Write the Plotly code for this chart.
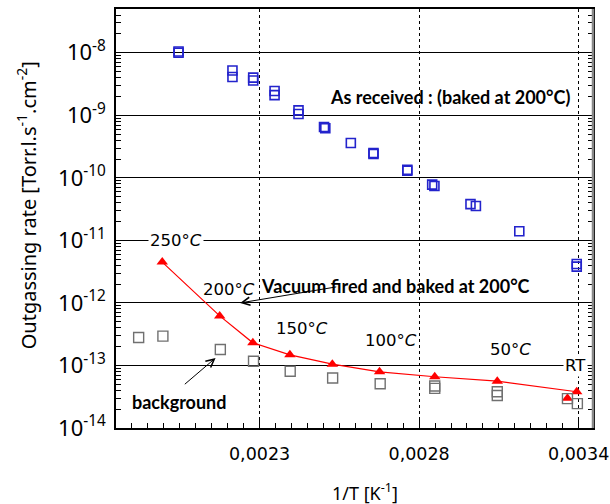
import plotly.graph_objects as go

# ---------------- data ----------------
# As received (baked at 200 C) - blue open squares
recv_x = [0.002046, 0.002046, 0.002215, 0.002215, 0.00228, 0.00228, 0.002347, 0.002347,
          0.002422, 0.002422, 0.002502, 0.002506, 0.002586, 0.002657, 0.002657,
          0.002763, 0.002763, 0.002841, 0.002848, 0.002961, 0.002978, 0.003114,
          0.003294, 0.003294]
recv_y = [1.05e-8, 1.0e-8, 5.2e-9, 4.1e-9, 4.0e-9, 3.6e-9, 2.45e-9, 2.1e-9,
          1.2e-9, 1.05e-9, 6.5e-10, 6.2e-10, 3.6e-10, 2.5e-10, 2.4e-10,
          1.35e-10, 1.3e-10, 7.8e-11, 7.4e-11, 3.8e-11, 3.55e-11, 1.4e-11,
          4.2e-12, 3.8e-12]

# Vacuum fired and baked at 200 C - red triangles
vf_x = [0.001995, 0.002175, 0.002279, 0.002395, 0.002528, 0.002676, 0.002849,
        0.003045, 0.003265, 0.003294]
vf_y = [4.5e-12, 6.2e-13, 2.3e-13, 1.48e-13, 1.05e-13, 7.9e-14, 6.6e-14,
        5.6e-14, 3.0e-14, 3.8e-14]
vf_line_idx = [0, 1, 2, 3, 4, 5, 6, 7, 9]

# Background - grey open squares
bg_x = [0.001921, 0.001997, 0.002177, 0.002281, 0.002396, 0.002529, 0.002678,
        0.002849, 0.002849, 0.003045, 0.003045, 0.003265, 0.003296]
bg_y = [2.8e-13, 2.95e-13, 1.8e-13, 1.17e-13, 8.1e-14, 6.3e-14, 5.1e-14,
        4.7e-14, 4.3e-14, 3.8e-14, 3.3e-14, 2.95e-14, 2.45e-14]

# axis ticks
x_tickvals = [0.0023, 0.0028, 0.0033]
x_ticktext = ["0,0023", "0,0028", "0,0034"]
y_exponents = [-8, -9, -10, -11, -12, -13, -14]

# temperature labels (x, log10 y)
temp_labels = ["250°<i>C</i>", "200°<i>C</i>", "150°<i>C</i>", "100°<i>C</i>", "50°<i>C</i>", "RT"]
temp_x = [0.002039, 0.002205, 0.002433, 0.002713, 0.003086, 0.003291]
temp_logy = [-11.0, -11.79, -12.41, -12.60, -12.75, -13.0]

# ---------------- figure ----------------
fig = go.Figure()

fig.add_trace(go.Scatter(
    x=recv_x, y=recv_y, mode="markers", name="As received",
    marker=dict(symbol="square-open", size=9, color="#2323cc", line=dict(width=1.6)),
))
fig.add_trace(go.Scatter(
    x=[vf_x[i] for i in vf_line_idx], y=[vf_y[i] for i in vf_line_idx],
    mode="lines", line=dict(color="#ff0000", width=1.2), hoverinfo="skip", showlegend=False,
))
fig.add_trace(go.Scatter(
    x=vf_x, y=vf_y, mode="markers", name="Vacuum fired",
    marker=dict(symbol="triangle-up", size=10, color="#ff0000"),
))
fig.add_trace(go.Scatter(
    x=bg_x, y=bg_y, mode="markers", name="background",
    marker=dict(symbol="square-open", size=10, color="#707070", line=dict(width=1.4)),
))

tick_font = dict(family="DejaVu Sans", size=17.5, color="black")

fig.update_xaxes(
    range=[0.00185, 0.003345], automargin=False,
    tickmode="array", tickvals=x_tickvals, ticktext=x_ticktext,
    ticks="inside", ticklen=8, tickwidth=1, tickcolor="black",
    minor=dict(ticks="inside", ticklen=5, tickwidth=1, tickcolor="black",
               tick0=0.00185, dtick=0.00005, showgrid=False),
    showgrid=True, gridcolor="black", gridwidth=1.1, griddash="dot",
    showline=True, linecolor="black", linewidth=1.5, mirror=True,
    zeroline=False, tickfont=tick_font, ticklabelstandoff=9,
)
fig.update_yaxes(
    type="log", range=[-14, -7.3], automargin=False,
    tickmode="array", tickvals=[10.0 ** e for e in y_exponents],
    ticktext=["10<sup>%d</sup>" % e for e in y_exponents],
    ticks="inside", ticklen=8, tickwidth=1, tickcolor="black",
    minor=dict(ticks="inside", ticklen=5, tickwidth=1, tickcolor="black",
               dtick="D1", showgrid=False),
    showgrid=True, gridcolor="black", gridwidth=1.3,
    showline=True, linecolor="black", linewidth=1.5, mirror="allticks",
    zeroline=False, tickfont=dict(family="Noto Sans", size=22, color="black"),
    ticklabelstandoff=4,
)

annotations = []
for t, xv, ly in zip(temp_labels, temp_x, temp_logy):
    annotations.append(dict(
        x=xv, y=ly, xref="x", yref="y", text=t, showarrow=False,
        font=dict(family="DejaVu Sans", size=16.5, color="black"),
        bgcolor="white" if t in ("250°<i>C</i>", "RT") else "rgba(0,0,0,0)",
        borderpad=1,
    ))

bold_font = dict(family="Lato", size=18, color="black")
annotations += [
    dict(x=0.002513, y=-8.71, xref="x", yref="y", text="<b>As received : (baked at 200°C)</b>",
         showarrow=False, font=bold_font, xanchor="left"),
    dict(x=0.002297, y=-11.73, xref="x", yref="y", text="<b>Vacuum fired and baked at 200°C</b>",
         showarrow=False, font=bold_font, xanchor="left"),
    dict(x=0.002049, y=-13.58, xref="x", yref="y", text="<b>background</b>",
         showarrow=False, font=bold_font),
    # arrows
    dict(x=0.002239, y=-12.0, ax=0.002545, ay=-11.74, xref="x", yref="y", axref="x", ayref="y",
         text="", showarrow=True, arrowhead=5, arrowsize=1.6, arrowwidth=1, arrowcolor="black"),
    dict(x=0.002162, y=-12.88, ax=0.002061, ay=-13.32, xref="x", yref="y", axref="x", ayref="y",
         text="", showarrow=True, arrowhead=5, arrowsize=1.6, arrowwidth=1, arrowcolor="black"),
    # axis titles
    dict(x=0.522, y=-0.153, xref="paper", yref="paper", text="1/T [K<sup>-1</sup>]",
         showarrow=False, font=dict(family="Noto Sans", size=18, color="black"),
         xanchor="center", yanchor="middle"),
    dict(x=-0.187, y=0.531, xref="paper", yref="paper", textangle=-90,
         text="Outgassing rate [Torr.l.s<sup>-1</sup>.cm<sup>-2</sup>]",
         showarrow=False, font=dict(family="Noto Sans", size=20, color="black"),
         xanchor="center", yanchor="middle"),
]

fig.update_layout(
    width=610, height=504,
    margin=dict(l=116, r=17, t=9, b=76),
    paper_bgcolor="white", plot_bgcolor="white",
    showlegend=False,
    annotations=annotations,
    shapes=[dict(type="line", xref="paper", yref="paper", x0=1, x1=1, y0=0, y1=1,
                 line=dict(color="#888888", width=2.5))],
)

fig.write_html("out.html")
